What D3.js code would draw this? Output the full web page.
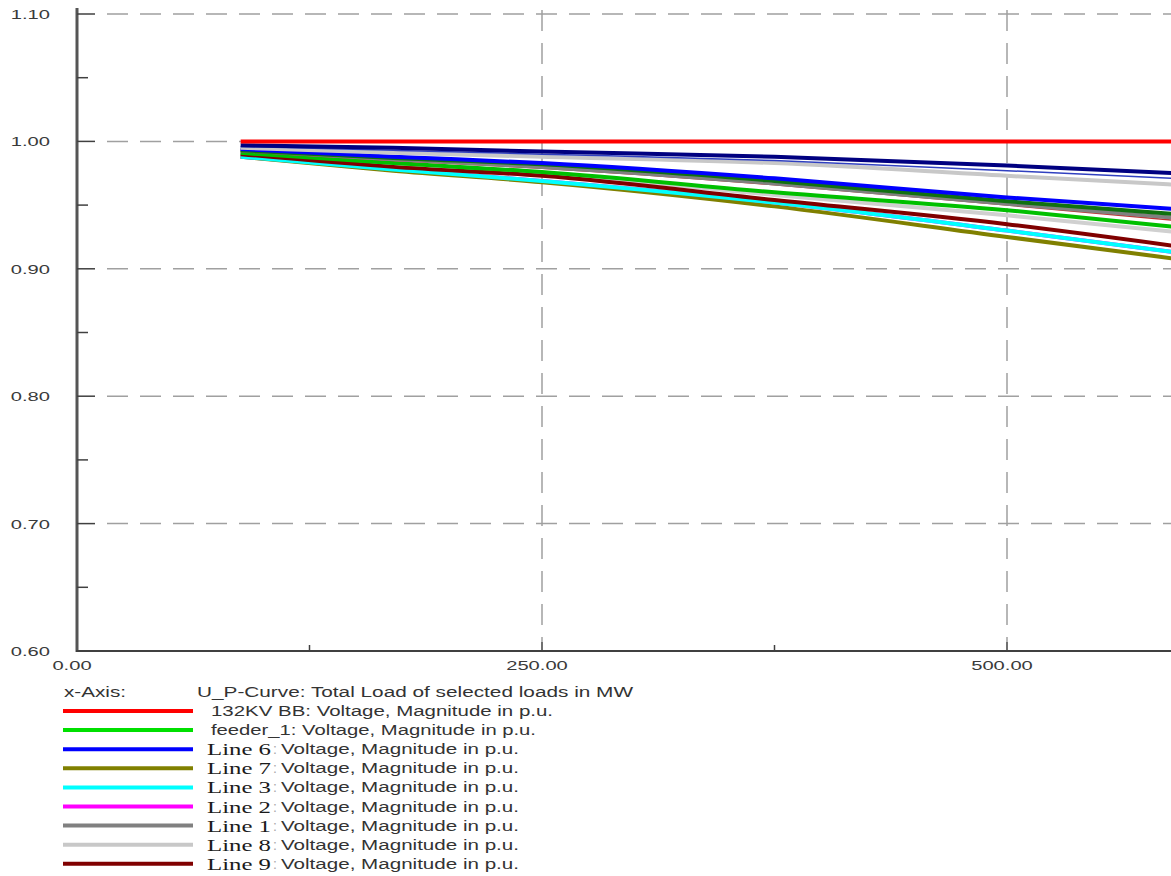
<!DOCTYPE html>
<html>
<head>
<meta charset="utf-8">
<script src="https://cdn.jsdelivr.net/npm/d3@7"></script>
<style>
  body { margin: 0; background: #fff; }
  svg { display: block; }
  .tick-lbl { font-family: 'Liberation Sans', Arial, sans-serif; font-size: 13px; fill: #3a3a3a; }
  .leg-sans { font-family: 'Liberation Sans', Arial, sans-serif; font-size: 14px; fill: #333; }
  .leg-serif { font-family: 'Liberation Serif', 'Times New Roman', serif; font-size: 17px; fill: #1a1a1a; }
</style>
</head>
<body>
<div id="graf"></div>
<script>
// load points (MW) where the curves were read
const loads = [88, 170, 250, 375, 500, 590]

// curves listed in the legend
const bb132 = [1.0, 1.0, 1.0, 1.0, 1.0, 1.0]
const feeder1 = [0.991, 0.983, 0.976, 0.960, 0.946, 0.933]
const line6 = [0.994, 0.988, 0.983, 0.971, 0.956, 0.947]
const line7 = [0.988, 0.977, 0.968, 0.949, 0.925, 0.908]
const line3 = [0.988, 0.978, 0.969, 0.952, 0.930, 0.913]
const line2 = [0.988, 0.978, 0.969, 0.952, 0.930, 0.913]
const line1 = [0.993, 0.986, 0.980, 0.967, 0.951, 0.940]
const line8 = [0.995, 0.991, 0.988, 0.983, 0.973, 0.966]
const line9 = [0.990, 0.980, 0.973, 0.954, 0.935, 0.918]

// curves drawn but cut from the legend
const extraNavy = [0.997, 0.995, 0.992, 0.988, 0.981, 0.975]
const extraBlue = [0.996, 0.993, 0.990, 0.985, 0.977, 0.971]
const extraDkGreen = [0.993, 0.987, 0.982, 0.969, 0.953, 0.943]
const extraRed = [0.992, 0.985, 0.979, 0.966, 0.950, 0.938]
const extraGray = [0.990, 0.982, 0.975, 0.958, 0.942, 0.929]

const legendNames = ['132KV BB', 'feeder_1', 'Line 6', 'Line 7', 'Line 3', 'Line 2', 'Line 1', 'Line 8', 'Line 9']
const legendColors = ['#ff0000', '#00e000', '#0000ff', '#808000', '#00ffff', '#ff00ff', '#808080', '#c8c8c8', '#800000']
const legendValues = [bb132, feeder1, line6, line7, line3, line2, line1, line8, line9]

const yTicks = [0.6, 0.7, 0.8, 0.9, 1.0, 1.1]
const yMinor = [0.65, 0.75, 0.85, 0.95, 1.05]
const xTicks = [0, 250, 500]
const xMinor = [125, 375]

const xTitle = 'x-Axis:'
const xLabel = 'U_P-Curve: Total Load of selected loads in MW'
const seriesSuffix = 'Voltage, Magnitude in p.u.'

const anchoTotal = 1171
const altoTotal = 876

const svg = d3.select('#graf')
  .append('svg')
  .attr('width', anchoTotal)
  .attr('height', altoTotal)

const x = d3.scaleLinear().domain([0, 500]).range([77, 1007])
const y = d3.scaleLinear().domain([0.6, 1.1]).range([651, 14])
const stretch = 1.55

// text squeezed/stretched to the width it has in the source image
function ajusta(sel, ancho) {
  return sel.attr('textLength', ancho).attr('lengthAdjust', 'spacingAndGlyphs')
}

// grid
const grid = svg.append('g')
  .attr('stroke', '#a0a0a0')
  .attr('stroke-width', 1.5)
  .attr('stroke-dasharray', '21 12')
grid.selectAll('line.h')
  .data(yTicks.filter((d) => d > 0.6))
  .join('line')
  .attr('x1', 107).attr('x2', anchoTotal)
  .attr('y1', (d) => y(d)).attr('y2', (d) => y(d))
grid.selectAll('line.v')
  .data(xTicks.filter((d) => d > 0))
  .join('line')
  .attr('x1', (d) => x(d)).attr('x2', (d) => x(d))
  .attr('y1', 10).attr('y2', 642)

// curves
const linea = d3.line()
  .x((d, i) => x(loads[i]))
  .y((d) => y(d))
  .curve(d3.curveMonotoneX)

const drawn = [
  { v: extraGray, c: '#d0d0d0', w: 4 },
  { v: line2, c: legendColors[5], w: 4 },
  { v: line7, c: legendColors[3], w: 4 },
  { v: line3, c: legendColors[4], w: 4 },
  { v: line9, c: legendColors[8], w: 4 },
  { v: feeder1, c: '#00c000', w: 4 },
  { v: extraRed, c: '#c03030', w: 1.5 },
  { v: line1, c: legendColors[6], w: 4 },
  { v: extraDkGreen, c: '#107010', w: 4 },
  { v: line6, c: legendColors[2], w: 4 },
  { v: line8, c: legendColors[7], w: 4 },
  { v: extraBlue, c: '#3040c0', w: 1.5 },
  { v: extraNavy, c: '#000080', w: 4 },
  { v: bb132, c: legendColors[0], w: 4 },
]

svg.append('g')
  .selectAll('path')
  .data(drawn)
  .join('path')
  .attr('d', (d) => linea(d.v))
  .attr('fill', 'none')
  .attr('stroke', (d) => d.c)
  .attr('stroke-width', (d) => d.w)

// axes
const ejes = svg.append('g').attr('stroke', '#404040')
ejes.append('line')
  .attr('x1', 77).attr('x2', 77).attr('y1', 8).attr('y2', 652)
  .attr('stroke-width', 3).attr('stroke', '#555')
ejes.append('line')
  .attr('x1', 76).attr('x2', anchoTotal).attr('y1', 651).attr('y2', 651)
  .attr('stroke-width', 2)
ejes.selectAll('line.ym')
  .data(yTicks.filter((d) => d > 0.6))
  .join('line')
  .attr('x1', 77).attr('x2', 95)
  .attr('y1', (d) => y(d)).attr('y2', (d) => y(d))
  .attr('stroke-width', 1.5)
ejes.selectAll('line.yn')
  .data(yMinor)
  .join('line')
  .attr('x1', 77).attr('x2', 88)
  .attr('y1', (d) => y(d)).attr('y2', (d) => y(d))
  .attr('stroke-width', 1.5)
ejes.selectAll('line.xm')
  .data(xTicks.filter((d) => d > 0))
  .join('line')
  .attr('x1', (d) => x(d)).attr('x2', (d) => x(d))
  .attr('y1', 651).attr('y2', 642)
  .attr('stroke-width', 1.5)
ejes.selectAll('line.xn')
  .data(xMinor)
  .join('line')
  .attr('x1', (d) => x(d)).attr('x2', (d) => x(d))
  .attr('y1', 651).attr('y2', 645)
  .attr('stroke-width', 1.5)

// tick labels (horizontally stretched like the source)
svg.selectAll('text.yl')
  .data(yTicks)
  .join('text')
  .attr('class', 'tick-lbl')
  .attr('text-anchor', 'end')
  .attr('transform', (d) => `translate(50, ${y(d) + 5}) scale(${stretch}, 1)`)
  .text((d) => d.toFixed(2))

svg.selectAll('text.xl')
  .data(xTicks)
  .join('text')
  .attr('class', 'tick-lbl')
  .attr('text-anchor', 'middle')
  .attr('transform', (d) => `translate(${x(d) - 5}, ${670}) scale(${stretch}, 1)`)
  .text((d) => d.toFixed(2))

// legend
const leg = svg.append('g')
ajusta(leg.append('text')
  .attr('class', 'leg-sans')
  .attr('x', 64).attr('y', 697)
  .text(xTitle), 62)
ajusta(leg.append('text')
  .attr('class', 'leg-sans')
  .attr('x', 197).attr('y', 697)
  .text(xLabel), 436)

const filas = leg.selectAll('g.fila')
  .data(legendNames)
  .join('g')
  .attr('transform', (d, i) => `translate(0, ${711 + i * 19.1})`)

filas.append('line')
  .attr('x1', 63).attr('x2', 193)
  .attr('stroke', (d, i) => legendColors[i])
  .attr('stroke-width', 4)

filas.each(function (d) {
  const f = d3.select(this)
  if (d.startsWith('Line')) {
    ajusta(f.append('text')
      .attr('class', 'leg-serif')
      .attr('x', 207).attr('y', 6)
      .text(d), 64)
    f.append('text')
      .attr('class', 'leg-sans')
      .attr('x', 273).attr('y', 5)
      .attr('fill', '#aaa')
      .style('fill', '#aaa')
      .text(':')
    ajusta(f.append('text')
      .attr('class', 'leg-sans')
      .attr('x', 281).attr('y', 5)
      .text(seriesSuffix), 238)
  } else {
    ajusta(f.append('text')
      .attr('class', 'leg-sans')
      .attr('x', 211).attr('y', 5)
      .text(`${d}: ${seriesSuffix}`), d === 'feeder_1' ? 325 : 342)
  }
})
</script>
</body>
</html>
